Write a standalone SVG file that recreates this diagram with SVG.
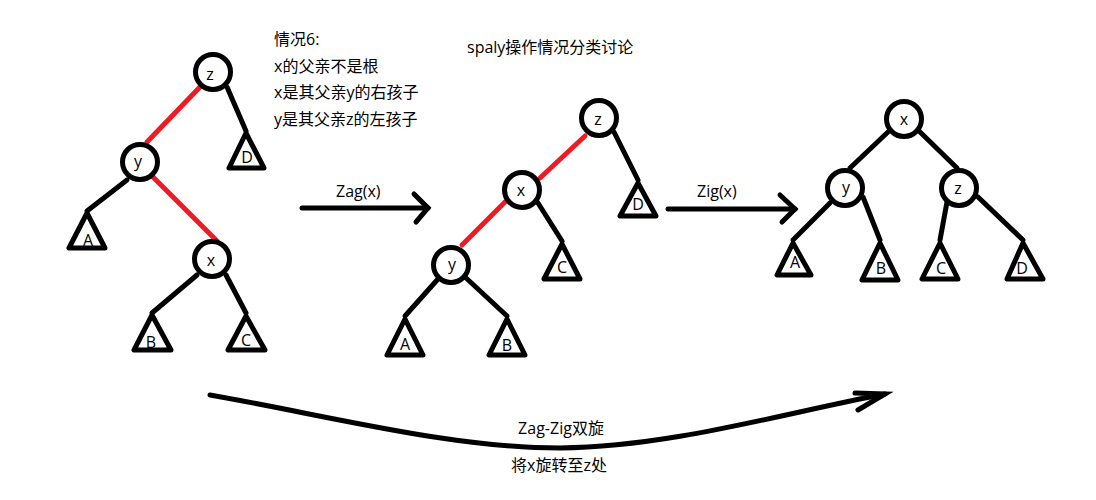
<svg xmlns="http://www.w3.org/2000/svg" width="1096" height="500" viewBox="0 0 1096 500">
<style>
.e{stroke:#000;stroke-width:5;stroke-linecap:round;fill:none}
.r{stroke:#ed1c24;stroke-width:5;stroke-linecap:round;fill:none}
.n{fill:#fff;stroke:#000;stroke-width:5}
.t{fill:#fff;stroke:#000;stroke-width:5;stroke-linejoin:round}
text{font-family:"Open Sans","Noto Sans CJK SC",sans-serif;font-size:16px;fill:#000}
.c{text-anchor:middle}
</style>
<rect width="1096" height="500" fill="#fff"/>
<g id="connectors">
<line class="r" x1="200" y1="87" x2="147" y2="142"/>
<line class="e" x1="227" y1="87" x2="246" y2="131"/>
<line class="e" x1="127" y1="180" x2="87" y2="211"/>
<line class="r" x1="153" y1="177" x2="217" y2="241"/>
<line class="e" x1="197" y1="275" x2="152" y2="313"/>
<line class="e" x1="226" y1="275" x2="246" y2="313"/>
<line class="r" x1="585" y1="136" x2="540" y2="178"/>
<line class="e" x1="614" y1="132" x2="638" y2="180"/>
<line class="r" x1="505" y1="202" x2="462" y2="245"/>
<line class="e" x1="538" y1="203" x2="562" y2="241"/>
<line class="e" x1="438" y1="279" x2="405" y2="316"/>
<line class="e" x1="465" y1="277" x2="507" y2="316"/>
<line class="e" x1="888" y1="132" x2="850" y2="168"/>
<line class="e" x1="920" y1="132" x2="957" y2="168"/>
<line class="e" x1="830" y1="203" x2="793" y2="240"/>
<line class="e" x1="863" y1="197" x2="880" y2="240"/>
<line class="e" x1="947" y1="202" x2="940" y2="240"/>
<line class="e" x1="978" y1="197" x2="1023" y2="240"/>
<g id="zag-arrow">
<line class="e" x1="302" y1="208" x2="428" y2="208"/>
<polyline class="e" points="414,194 428,208 416,222"/>
<text x="336" y="197">Zag(x)</text>
</g>
<g id="zig-arrow">
<line class="e" x1="668" y1="209" x2="795" y2="209"/>
<polyline class="e" points="780,195 795,209 782,222"/>
<text x="697" y="197">Zig(x)</text>
</g>
<g id="zagzig-arrow">
<path class="e" d="M210,395 C330,416 450,448 560,448 C670,447 780,414 885,394"/>
<polyline class="e" points="855,393 885,394 858,410"/>
<text class="c" x="561" y="434">Zag-Zig双旋</text>
<text class="c" x="559" y="471">将x旋转至z处</text>
</g>
</g>
<g id="notes">
<text x="274" y="45">情况6:</text>
<text x="274" y="72">x的父亲不是根</text>
<text x="274" y="98">x是其父亲y的右孩子</text>
<text x="274" y="125">y是其父亲z的左孩子</text>
<text x="467" y="53">spaly操作情况分类讨论</text>
</g>
<g id="t1-z"><circle class="n" cx="213" cy="72" r="17.5"/><text class="c" x="210" y="80">z</text></g>
<g id="t1-y"><circle class="n" cx="140" cy="162" r="17.5"/><text class="c" x="138" y="167">y</text></g>
<g id="t1-x"><circle class="n" cx="212" cy="259" r="17.5"/><text class="c" x="211" y="266">x</text></g>
<g id="t1-D"><polygon class="t" points="246,133 229,168 264,168"/><text class="c" x="247" y="163">D</text></g>
<g id="t1-A"><polygon class="t" points="87,213 69,248 105,248"/><text class="c" x="88" y="246">A</text></g>
<g id="t1-B"><polygon class="t" points="152,315 134,350 171,350"/><text class="c" x="151" y="348">B</text></g>
<g id="t1-C"><polygon class="t" points="246,316 228,350 265,350"/><text class="c" x="246" y="346">C</text></g>
<g id="t2-z"><circle class="n" cx="599" cy="118" r="17.5"/><text class="c" x="598" y="125">z</text></g>
<g id="t2-x"><circle class="n" cx="522" cy="190" r="17.5"/><text class="c" x="521" y="196">x</text></g>
<g id="t2-y"><circle class="n" cx="451" cy="265" r="17.5"/><text class="c" x="452" y="270">y</text></g>
<g id="t2-D"><polygon class="t" points="638,183 620,216 656,216"/><text class="c" x="638" y="210">D</text></g>
<g id="t2-C"><polygon class="t" points="562,244 544,279 580,279"/><text class="c" x="562" y="273">C</text></g>
<g id="t2-A"><polygon class="t" points="405,319 387,355 423,355"/><text class="c" x="405" y="350">A</text></g>
<g id="t2-B"><polygon class="t" points="507,319 489,355 525,355"/><text class="c" x="507" y="351">B</text></g>
<g id="t3-x"><circle class="n" cx="904" cy="119" r="17.5"/><text class="c" x="904" y="125">x</text></g>
<g id="t3-y"><circle class="n" cx="845" cy="188" r="17.5"/><text class="c" x="846" y="193">y</text></g>
<g id="t3-z"><circle class="n" cx="959" cy="188" r="17.5"/><text class="c" x="958" y="194">z</text></g>
<g id="t3-A"><polygon class="t" points="793,243 777,275 811,275"/><text class="c" x="795" y="268">A</text></g>
<g id="t3-B"><polygon class="t" points="880,243 862,280 898,280"/><text class="c" x="881" y="274">B</text></g>
<g id="t3-C"><polygon class="t" points="940,243 922,279 958,279"/><text class="c" x="941" y="274">C</text></g>
<g id="t3-D"><polygon class="t" points="1023,243 1007,279 1043,279"/><text class="c" x="1022" y="274">D</text></g>
</svg>
